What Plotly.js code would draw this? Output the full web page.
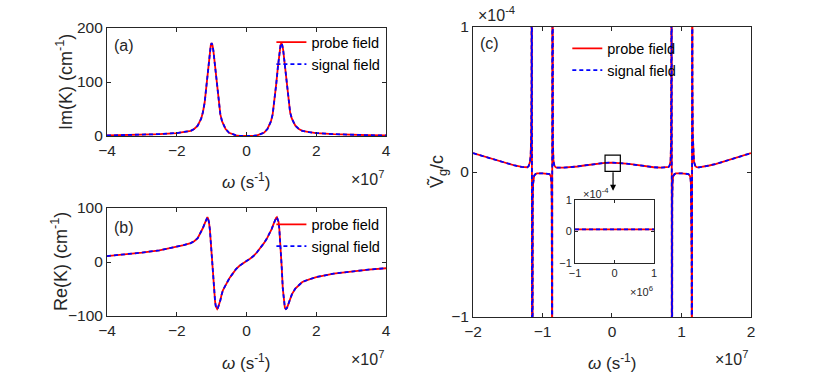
<!DOCTYPE html>
<html>
<head>
<meta charset="utf-8">
<script src="https://cdn.plot.ly/plotly-3.0.1.min.js"></script>
<style>
  html, body { margin: 0; padding: 0; background: #fff; }
  #chart { width: 830px; height: 381px; }
</style>
</head>
<body>
<div id="chart"></div>
<script>
// omega in units of 1e7 s^-1 (panels a, b, c), 1e6 s^-1 for the inset
// Im(K), cm^-1
const omegaA = [-4, -3.5, -3, -2.5, -2, -1.8, -1.6, -1.5, -1.4, -1.3, -1.25, -1.2, -1.15, -1.1, -1.05, -1.025, -1, -0.975, -0.95, -0.9, -0.85, -0.8, -0.75, -0.7, -0.65, -0.6, -0.5, -0.4, -0.3, -0.2, -0.1, 0,
  0.1, 0.2, 0.3, 0.4, 0.5, 0.6, 0.65, 0.7, 0.75, 0.8, 0.85, 0.9, 0.95, 0.975, 1, 1.025, 1.05, 1.1, 1.15, 1.2, 1.25, 1.3, 1.4, 1.5, 1.6, 1.8, 2, 2.5, 3, 3.5, 4];
const imK = [1, 1.5, 2.2, 3.5, 5.5, 7, 9.5, 13, 19, 32, 44, 62, 95, 130, 160, 168, 172, 168, 158, 128, 95, 64, 40, 27, 19, 13, 6, 3, 1.2, 0.4, 0.1, 0,
  0.1, 0.4, 1.2, 3, 6, 13, 19, 27, 40, 64, 95, 128, 158, 168, 172, 168, 160, 130, 95, 62, 44, 32, 19, 13, 9.5, 7, 5.5, 3.5, 2.2, 1.5, 1];

// Re(K), cm^-1
const omegaB = [-4, -3.5, -3, -2.5, -2, -1.9, -1.8, -1.6, -1.5, -1.4, -1.35, -1.3, -1.25, -1.2, -1.17, -1.14, -1.12, -1.1, -1.077, -1.05, -1.03, -1, -0.98, -0.96, -0.94, -0.92, -0.9, -0.88, -0.86, -0.84, -0.82, -0.79, -0.75, -0.72, -0.68, -0.625, -0.55, -0.48, -0.4, -0.3, -0.2, -0.1, 0,
  0.1, 0.2, 0.3, 0.4, 0.5, 0.58, 0.65, 0.72, 0.78, 0.82, 0.85, 0.87, 0.9, 0.92, 0.94, 0.97, 0.99, 1.01, 1.04, 1.07, 1.1, 1.13, 1.16, 1.2, 1.25, 1.3, 1.4, 1.5, 1.6, 1.8, 1.9, 2, 2.5, 3, 3.5, 4];
const reK = [11, 14, 17.5, 21.5, 28, 30, 31.5, 35, 38.5, 44, 50, 56, 63, 71, 77, 82, 83, 80, 74, 60, 42, 15, -6, -28, -49, -63, -74, -82, -86, -87, -85, -80, -71, -62, -53, -46, -37, -29, -22, -13, -7, -2, 2,
  6, 11, 18, 26, 35, 43, 51, 61, 71, 79, 82, 83, 79, 74, 62, 38, 12, -10, -49, -74, -85, -87, -85, -78, -68, -60, -49, -42, -37, -32, -30, -28, -21.5, -17.5, -14, -11.5];

// group velocity Vg/c, units of 1e-4 (values beyond +-1 run off the axes at the poles)
const omegaC = [-2, -1.9, -1.8, -1.7, -1.6, -1.5, -1.4, -1.3, -1.25, -1.22, -1.2, -1.18, -1.17, -1.163, -1.158, -1.155, -1.153,
  -1.151, -1.149, -1.146, -1.14, -1.135, -1.13, -1.12, -1.1, -1.08, -1, -0.92, -0.9, -0.88, -0.872, -0.867, -0.864, -0.862, -0.861,
  -0.859, -0.857, -0.855, -0.85, -0.843, -0.83, -0.815, -0.8, -0.7, -0.6, -0.5, -0.4, -0.3, -0.2, -0.1, 0,
  0.1, 0.2, 0.3, 0.4, 0.5, 0.6, 0.7, 0.8, 0.815, 0.83, 0.843, 0.85, 0.855, 0.857, 0.859,
  0.861, 0.862, 0.864, 0.867, 0.872, 0.88, 0.9, 0.92, 1, 1.08, 1.1, 1.12, 1.13, 1.135, 1.14, 1.146, 1.149, 1.151,
  1.153, 1.155, 1.158, 1.163, 1.17, 1.18, 1.2, 1.22, 1.25, 1.3, 1.4, 1.5, 1.6, 1.7, 1.8, 1.9, 2];
const vgC = [0.13, 0.115, 0.1, 0.085, 0.07, 0.056, 0.045, 0.035, 0.032, 0.033, 0.04, 0.07, 0.12, 0.25, 0.6, 1.5, 5,
  -5, -1.5, -0.6, -0.2, -0.08, -0.045, -0.025, -0.014, -0.01, -0.009, -0.01, -0.014, -0.03, -0.07, -0.2, -0.6, -1.5, -5,
  5, 1.5, 0.6, 0.2, 0.08, 0.045, 0.035, 0.03, 0.03, 0.033, 0.038, 0.045, 0.052, 0.058, 0.063, 0.065,
  0.063, 0.058, 0.052, 0.045, 0.038, 0.033, 0.03, 0.03, 0.035, 0.045, 0.08, 0.2, 0.6, 1.5, 5,
  -5, -1.5, -0.6, -0.2, -0.07, -0.03, -0.014, -0.01, -0.009, -0.01, -0.014, -0.025, -0.045, -0.08, -0.2, -0.6, -1.5, -5,
  5, 1.5, 0.6, 0.25, 0.12, 0.07, 0.04, 0.033, 0.032, 0.035, 0.045, 0.056, 0.07, 0.085, 0.1, 0.115, 0.13];

// inset, omega in 1e6 s^-1
const omegaIn = [-1, -0.5, 0, 0.5, 1];
const vgIn = [0.066, 0.067, 0.067, 0.067, 0.066];

const seriesNames = ['probe field', 'signal field'];
const FONT = 'Liberation Sans, Arial, Helvetica, sans-serif';
const INK = '#262626';

function pair(x, y, xa, ya, legend, show) {
  return [
    { x, y, xaxis: xa, yaxis: ya, type: 'scatter', mode: 'lines', name: seriesNames[0],
      legend, showlegend: show, line: { color: '#ff0000', width: 1.8 } },
    { x, y, xaxis: xa, yaxis: ya, type: 'scatter', mode: 'lines', name: seriesNames[1],
      legend, showlegend: show, line: { color: '#0000ff', width: 1.8, dash: '4px,3px' } }
  ];
}

const traces = [
  ...pair(omegaA, imK, 'x', 'y', 'legend', true),
  ...pair(omegaB, reK, 'x2', 'y2', 'legend2', true),
  ...pair(omegaC, vgC, 'x3', 'y3', 'legend3', true),
  ...pair(omegaIn, vgIn, 'x4', 'y4', 'legend', false)
];

function axis(domain, range, tickvals, anchor, size) {
  return {
    domain, range, tickvals, anchor,
    showline: true, mirror: 'ticks', linecolor: INK, linewidth: 1,
    ticks: 'inside', ticklen: size ? 3 : 4, tickcolor: INK, tickwidth: 1,
    showgrid: false, zeroline: false, fixedrange: true,
    tickfont: { family: FONT, size: size || 15.5, color: INK }
  };
}

function legend(x, y) {
  return {
    x, y, xanchor: 'left', yanchor: 'top', xref: 'paper', yref: 'paper',
    bgcolor: 'rgba(0,0,0,0)', borderwidth: 0, itemwidth: 30, tracegroupgap: 0,
    font: { family: FONT, size: 14.5, color: '#000' }
  };
}

function label(text, x, y, opts) {
  return Object.assign({ text, x: x / 830, y: 1 - y / 381, xref: 'paper', yref: 'paper',
    showarrow: false, xanchor: 'center', yanchor: 'middle',
    font: { family: FONT, size: 16, color: INK } }, opts || {});
}

const titleFont = { family: FONT, size: 18, color: INK };

const layout = {
  width: 830, height: 381,
  margin: { l: 0, r: 0, t: 0, b: 0 },
  paper_bgcolor: '#fff', plot_bgcolor: '#fff',
  xaxis: axis([0.1289, 0.4651], [-4, 4], [-4, -2, 0, 2, 4], 'y'),
  yaxis: axis([0.643, 0.9265], [0, 200], [0, 100, 200], 'x'),
  xaxis2: axis([0.1289, 0.4651], [-4, 4], [-4, -2, 0, 2, 4], 'y2'),
  yaxis2: axis([0.1706, 0.454], [-100, 100], [-100, 0, 100], 'x2'),
  xaxis3: axis([0.5699, 0.9048], [-2, 2], [-2, -1, 0, 1, 2], 'y3'),
  yaxis3: axis([0.168, 0.929], [-1, 1], [-1, 0, 1], 'x3'),
  xaxis4: axis([0.6928, 0.788], [-1, 1], [-1, 0, 1], 'y4', 11),
  yaxis4: axis([0.3097, 0.475], [-1, 1], [-1, 0, 1], 'x4', 11),
  legend: legend(0.327, 0.931),
  legend2: legend(0.327, 0.453),
  legend3: legend(0.6835, 0.915),
  showlegend: true,
  shapes: [
    { type: 'rect', xref: 'x3', yref: 'y3', x0: -0.1, x1: 0.12, y0: 0.005, y1: 0.117,
      line: { color: '#000', width: 1.2 } }
  ],
  annotations: [
    label('(a)', 124, 46),
    label('(b)', 124, 227),
    label('(c)', 489, 44),
    label('Im(K) (cm<sup>-1</sup>)', 64, 82, { textangle: -90, font: titleFont }),
    label('Re(K) (cm<sup>-1</sup>)', 59, 262, { textangle: -90, font: titleFont }),
    label('Ṽ<sub>g</sub>/c', 438, 172, { textangle: -90, font: titleFont }),
    label('<i>ω</i> (s<sup>-1</sup>)', 246, 181, { font: { family: FONT, size: 17, color: INK } }),
    label('<i>ω</i> (s<sup>-1</sup>)', 246, 362, { font: { family: FONT, size: 17, color: INK } }),
    label('<i>ω</i> (s<sup>-1</sup>)', 612, 362, { font: { family: FONT, size: 17, color: INK } }),
    label('×10<sup>7</sup>', 367, 178),
    label('×10<sup>7</sup>', 367, 358),
    label('×10<sup>7</sup>', 731, 358),
    label('×10<sup>-4</sup>', 496, 14),
    label('×10<sup>-4</sup>', 596, 193, { font: { family: FONT, size: 11, color: INK } }),
    label('×10<sup>6</sup>', 641, 291, { font: { family: FONT, size: 11, color: INK } }),
    { x: 0.015, y: -0.13, xref: 'x3', yref: 'y3', ax: 0, ay: -20, showarrow: true,
      arrowhead: 2, arrowsize: 1, arrowwidth: 1.2, arrowcolor: '#000', text: '' }
  ]
};

Plotly.newPlot('chart', traces, layout, { displayModeBar: false, staticPlot: true });
</script>
</body>
</html>
